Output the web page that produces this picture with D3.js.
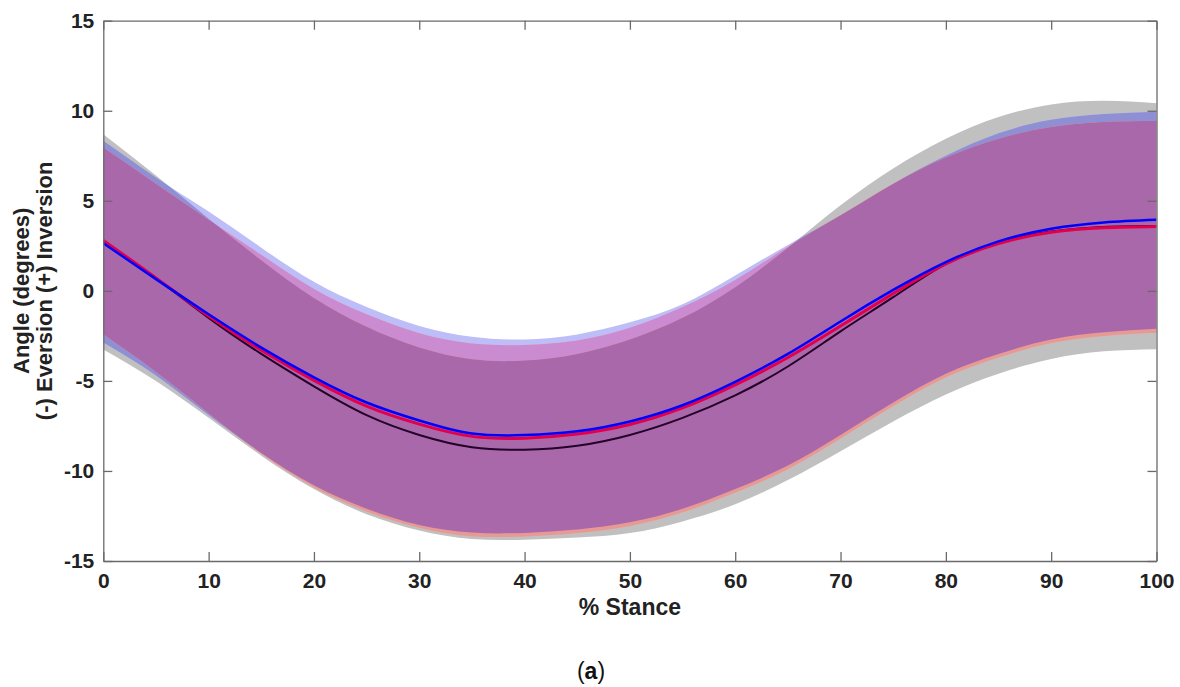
<!DOCTYPE html>
<html><head><meta charset="utf-8">
<script src="https://cdn.jsdelivr.net/npm/d3@7"></script>
<style>
body{margin:0;background:#fff}
text{font-family:Arial,"Liberation Sans",sans-serif}
</style>
</head><body>
<svg id="chart" width="1180" height="687"></svg>
<script>
// ---------- data ----------
const stance = [0,5,10,15,20,25,30,35,40,45,50,55,60,65,70,75,80,85,90,95,100];

const blackMean  = [2.75,0.7,-1.5,-3.5,-5.3,-6.9,-8.0,-8.68,-8.82,-8.6,-8.0,-7.05,-5.8,-4.2,-2.25,-0.35,1.5,2.7,3.3,3.55,3.6];
const redMean    = [2.8,0.72,-1.4,-3.3,-4.97,-6.4,-7.4,-8.08,-8.18,-7.95,-7.42,-6.5,-5.22,-3.7,-1.95,-0.15,1.5,2.62,3.25,3.5,3.57];
const blueMean   = [2.65,0.65,-1.3,-3.15,-4.8,-6.2,-7.2,-7.92,-8.01,-7.8,-7.25,-6.35,-5.05,-3.5,-1.7,0.05,1.6,2.75,3.45,3.8,3.95];

const greyUpper  = [8.7,6.4,4.0,1.7,-0.4,-2.0,-3.15,-3.8,-3.87,-3.5,-2.7,-1.5,0.2,2.4,4.75,6.8,8.45,9.65,10.35,10.55,10.42];
const greyLower  = [-3.25,-5.0,-7.05,-9.15,-11.0,-12.4,-13.3,-13.78,-13.82,-13.7,-13.45,-12.8,-11.85,-10.5,-8.9,-7.25,-5.75,-4.6,-3.78,-3.36,-3.24];
const blueUpper  = [8.33,6.3,4.4,2.4,0.5,-0.9,-1.95,-2.55,-2.7,-2.42,-1.75,-0.75,0.85,2.55,4.2,5.95,7.5,8.75,9.5,9.82,9.95];
const blueLower  = [-2.87,-4.7,-6.9,-9.0,-10.8,-12.1,-13.0,-13.42,-13.44,-13.25,-12.85,-12.1,-11.0,-9.7,-8.0,-6.2,-4.6,-3.5,-2.7,-2.3,-2.1];
const redUpper   = [7.96,5.95,3.95,2.0,0.1,-1.3,-2.35,-2.92,-3.0,-2.75,-2.05,-0.9,0.6,2.45,4.2,5.95,7.4,8.45,9.1,9.38,9.43];
const redLower   = [-2.43,-4.5,-6.8,-9.05,-10.9,-12.25,-13.15,-13.62,-13.64,-13.45,-13.05,-12.3,-11.2,-9.9,-8.2,-6.4,-4.8,-3.7,-2.9,-2.5,-2.33];

const xTicks = [0,10,20,30,40,50,60,70,80,90,100];
const yTicks = [-15,-10,-5,0,5,10,15];
const xLabel = "% Stance";
const yLabel1 = "Angle (degrees)";
const yLabel2 = "(-) Eversion (+) Inversion";
const caption = "a";

// ---------- layout ----------
const L = 103.3, R = 1156.5, T = 20.7, B = 561;
const svg = d3.select("#chart");
const x = d3.scaleLinear().domain([0,100]).range([L,R]);
const y = d3.scaleLinear().domain([-15,15]).range([B,T]);
const curve = d3.curveNatural;

const band = (up, lo) => d3.area().curve(curve)
  .x((d,i)=>x(stance[i])).y0((d,i)=>y(lo[i])).y1((d,i)=>y(up[i]))(stance);
const line = (m) => d3.line().curve(curve).x((d,i)=>x(stance[i])).y((d,i)=>y(m[i]))(stance);

const defs = svg.append("defs");
const gD = band(greyUpper, greyLower), bD = band(blueUpper, blueLower), rD = band(redUpper, redLower);
defs.append("clipPath").attr("id","clipG").append("path").attr("d", gD);
defs.append("clipPath").attr("id","clipB").append("path").attr("d", bD);
defs.append("clipPath").attr("id","clipR").append("path").attr("d", rD);
defs.append("clipPath").attr("id","clipPlot").append("rect").attr("x",L).attr("y",T).attr("width",R-L).attr("height",B-T);

const plot = svg.append("g").attr("clip-path","url(#clipPlot)");
// single bands
plot.append("path").attr("d", gD).attr("fill", "#c0c0c0");
plot.append("path").attr("d", bD).attr("fill", "#bdbdf8");
plot.append("path").attr("d", rD).attr("fill", "#f2a6a6");
// overlaps
plot.append("g").attr("clip-path","url(#clipG)").append("path").attr("d", bD).attr("fill", "#8f8fd3");
plot.append("g").attr("clip-path","url(#clipB)").append("path").attr("d", rD).attr("fill", "#cb8bd0");
plot.append("g").attr("clip-path","url(#clipG)").append("path").attr("d", rD).attr("fill", "#e79a94");
plot.append("g").attr("clip-path","url(#clipG)").append("g").attr("clip-path","url(#clipB)")
  .append("path").attr("d", rD).attr("fill", "#a968aa");

// mean lines
plot.append("path").attr("d", line(blackMean)).attr("fill","none").attr("stroke","#25002a").attr("stroke-width",2);
plot.append("path").attr("d", line(redMean)).attr("fill","none").attr("stroke","#e2004e").attr("stroke-width",3);
plot.append("path").attr("d", line(blueMean)).attr("fill","none").attr("stroke","#0000ff").attr("stroke-width",2.5);

// ---------- axes ----------
const axCol = "#6a6a6a";
const axB = svg.append("g").attr("transform",`translate(0,${B})`)
  .call(d3.axisBottom(x).tickValues(xTicks).tickSizeInner(-9).tickSizeOuter(0).tickPadding(12));
const axT = svg.append("g").attr("transform",`translate(0,${T})`)
  .call(d3.axisTop(x).tickValues(xTicks).tickSizeInner(-9).tickSizeOuter(0).tickFormat(""));
const axL = svg.append("g").attr("transform",`translate(${L},0)`)
  .call(d3.axisLeft(y).tickValues(yTicks).tickSizeInner(-9).tickSizeOuter(0).tickPadding(12).tickFormat(d=>String(d).replace("\u2212","-")));
const axR = svg.append("g").attr("transform",`translate(${R},0)`)
  .call(d3.axisRight(y).tickValues(yTicks).tickSizeInner(-9).tickSizeOuter(0).tickFormat(""));
[axB,axT,axL,axR].forEach(a=>{
  a.select(".domain").attr("stroke",axCol).attr("stroke-width",1.3);
  a.selectAll(".tick line").attr("stroke",axCol).attr("stroke-width",1.3);
  a.selectAll("text").attr("fill","#222").attr("font-size",21).attr("font-weight","bold")
    .attr("font-family","Arial, 'Liberation Sans', sans-serif");
});
axB.selectAll(".tick text").attr("dy","0.71em");
axL.selectAll(".tick text").attr("dx","3");

svg.append("text").attr("x",(L+R)/2).attr("y",615).attr("text-anchor","middle")
  .attr("font-size",23).attr("font-weight","bold").attr("fill","#222").text(xLabel);
const yl = svg.append("g").attr("transform",`translate(0,${y(0)}) rotate(-90)`);
yl.append("text").attr("x",0).attr("y",29).attr("text-anchor","middle")
  .attr("font-size",22).attr("font-weight","bold").attr("fill","#222").text(yLabel1);
yl.append("text").attr("x",0).attr("y",52).attr("text-anchor","middle")
  .attr("font-size",22).attr("font-weight","bold").attr("fill","#222").text(yLabel2);

const cap = svg.append("text").attr("x",591).attr("y",679).attr("text-anchor","middle")
  .attr("font-family","'Liberation Serif','DejaVu Serif',serif").attr("font-size",23).attr("fill","#111");
cap.append("tspan").text("(");
cap.append("tspan").attr("font-weight","bold").text(caption);
cap.append("tspan").text(")");
</script>
</body></html>
